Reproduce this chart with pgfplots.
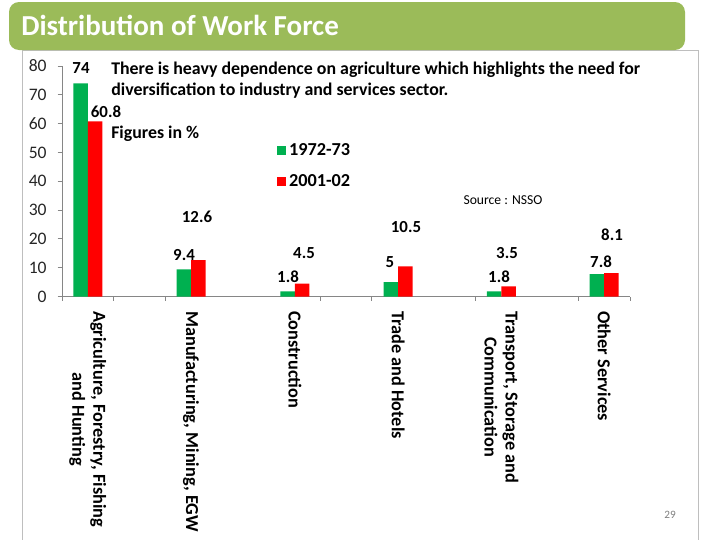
\documentclass[border=0pt]{standalone}
\usepackage{fontspec}
\setmainfont{Carlito}
\usepackage{pgfplots}
\pgfplotsset{compat=1.18}
\definecolor{bargreen}{RGB}{0,176,80}
\definecolor{barred}{RGB}{255,0,0}
\definecolor{banner}{RGB}{155,187,89}
\definecolor{axgray}{RGB}{134,134,134}
\definecolor{framegray}{RGB}{190,190,190}
\newcommand{\fs}{\fontsize{12}{14}\selectfont}
\begin{document}
\begin{tikzpicture}
\begin{scope}[x=0.25mm,y=-0.25mm]
\useasboundingbox (0,0) rectangle (720,540);
\fill[white] (0,0) rectangle (720,540);
\draw[framegray, line width=0.5pt] (22,540) -- (22,50) -- (698,50) -- (698,540);
\fill[banner, rounded corners=2.5mm] (9,2) rectangle (685,50);
\node[anchor=base west, inner sep=0, text=white, font=\bfseries\fontsize{20.6}{24}\selectfont] at (21,35) {Distribution of Work Force};
\node[anchor=center, text=gray, font=\fontsize{8}{10}\selectfont] at (670,515) {29};
\end{scope}

\begin{axis}[
  at={(15.5mm,-74.125mm)}, anchor=south west,
  scale only axis, width=142mm, height=57.625mm,
  xmin=0, xmax=5.5, ymin=0, ymax=80,
  axis x line=bottom, axis y line=left,
  axis line style={axgray, -, line width=0.6pt},
  ytick={0,10,...,80},
  tick align=outside,
  major tick length=1.1mm,
  minor tick length=1.1mm,
  every major y tick/.append style={axgray, line width=0.6pt},
  xtick={0.25,1.25,2.255,3.255,4.255,5.25},
  xticklabels={{Agriculture, Forestry, Fishing\\and Hunting},{Manufacturing, Mining, EGW},{Construction},{Trade and Hotels},{Transport, Storage and\\Communication},{Other Services}},
  every major x tick/.append style={draw=none},
  minor xtick={0,0.5,1,2.5,3,4,5,5.5},
  every minor x tick/.append style={axgray, line width=0.6pt},
  xticklabel style={rotate=-90, anchor=west, align=center, font=\bfseries\fontsize{13}{15}\selectfont, inner sep=0pt, xshift=2.5mm},
  yticklabel style={font=\fontsize{12.5}{14}\selectfont, text=black!85, xshift=-1.5mm},
  /pgf/number format/assume math mode=true,
  ybar=0pt, bar width=0.14,
  legend entries={1972-73,2001-02},
  legend style={at={(axis description cs:0.37,0.69)}, anchor=north west, draw=none, fill=none, font=\bfseries\fontsize{13}{14}\selectfont, row sep=2.8mm, legend cell align=left},
  legend image code/.code={\fill[#1] (0mm,-1.2mm) rectangle (2.4mm,1.2mm);},
  clip=false,
]
\addplot[fill=bargreen, draw=none] coordinates {(0.25,74) (1.25,9.4) (2.255,1.8) (3.255,5) (4.255,1.8) (5.25,7.8)};
\addplot[fill=barred, draw=none] coordinates {(0.25,60.8) (1.25,12.6) (2.255,4.5) (3.255,10.5) (4.255,3.5) (5.25,8.1)};
\end{axis}

\begin{scope}[x=0.25mm,y=-0.25mm, every node/.style={font=\bfseries\fs, inner sep=0pt}]
\node[anchor=west, font=\bfseries\fontsize{12.7}{14}\selectfont] at (111,70) {There is heavy dependence on agriculture which highlights the need for};
\node[anchor=west, font=\bfseries\fontsize{12.7}{14}\selectfont] at (111,91) {diversification to industry and services sector.};
\node[anchor=west, font=\bfseries\fontsize{12.7}{14}\selectfont] at (111,134) {Figures in \%};
\node at (81,68) {74};
\node at (106,112) {60.8};
\node at (197,217) {12.6};
\node at (184,255) {9.4};
\node at (304,253) {4.5};
\node at (288,277) {1.8};
\node at (406,227) {10.5};
\node at (390,262) {5};
\node at (507,253) {3.5};
\node at (499,277) {1.8};
\node at (612,235) {8.1};
\node at (601,262) {7.8};
\node[font=\fontsize{9.7}{11}\selectfont] at (503,200) {Source : NSSO};
\end{scope}
\end{tikzpicture}
\end{document}
